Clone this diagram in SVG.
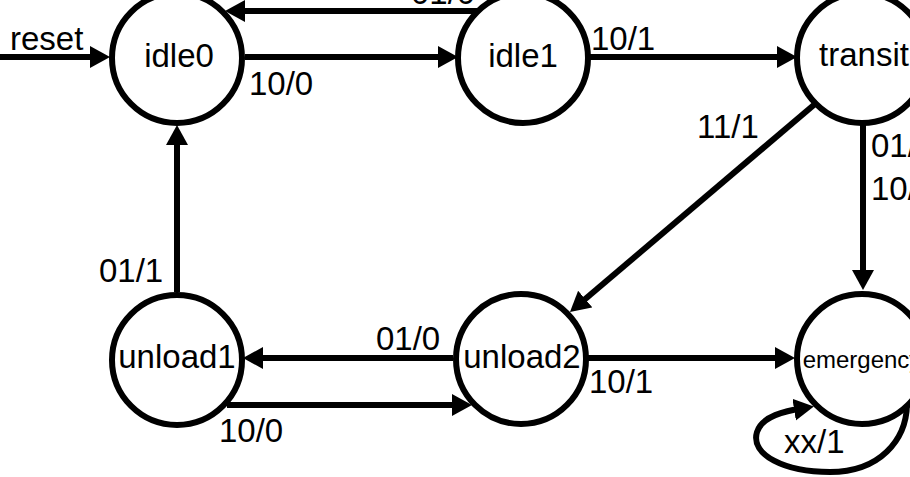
<svg xmlns="http://www.w3.org/2000/svg" width="910" height="477" viewBox="0 0 910 477">
<defs>
<marker id="arr" markerUnits="userSpaceOnUse" markerWidth="22" markerHeight="24" refX="10" refY="11" orient="auto" viewBox="0 0 22 24">
<path d="M0,0 L20,11 L0,22 z" fill="#000"/>
</marker>
<style>
.edge{fill:none;stroke:#000;stroke-width:6;marker-end:url(#arr)}
.node circle{fill:#fff;stroke:#000;stroke-width:6}
.nl{font-family:"Liberation Sans",Arial,sans-serif;font-size:33px;text-anchor:middle;fill:#000}
.el{font-family:"Liberation Sans",Arial,sans-serif;font-size:33px;fill:#000}
</style>
</defs>
<rect width="910" height="477" fill="#fff"/>
<g id="connectors">
<path class="edge" d="M0,57 H100"/>
<path class="edge" d="M245,57 H448"/>
<path class="edge" d="M478,11 H235"/>
<path class="edge" d="M588,57 H787"/>
<path class="edge" d="M815,104 L577.6,305.5"/>
<path class="edge" d="M863,123 V280"/>
<path class="edge" d="M177,292 V135"/>
<path class="edge" d="M453,358 H253"/>
<path class="edge" d="M227,405 H462"/>
<path class="edge" d="M588,358 H785"/>
<path class="edge" d="M907,405 C906,440 880,472 830,472 C785,472 750,455 757,432 C762,416 785,411 804,408"/>
<text class="el" x="10" y="50">reset</text>
<text class="el" x="249" y="95">10/0</text>
<text class="el" x="411" y="4">01/0</text>
<text class="el" x="591" y="50">10/1</text>
<text class="el" x="697" y="138">11/1</text>
<text class="el" x="871" y="157">01/</text>
<text class="el" x="871" y="200">10/</text>
<text class="el" x="99" y="282">01/1</text>
<text class="el" x="376" y="350">01/0</text>
<text class="el" x="219" y="442">10/0</text>
<text class="el" x="589" y="393">10/1</text>
<text class="el" x="784" y="453">xx/1</text>
</g>
<g id="idle0" class="node"><circle cx="177" cy="58" r="65"/><text class="nl" x="179" y="67">idle0</text></g>
<g id="idle1" class="node"><circle cx="523" cy="58" r="65"/><text class="nl" x="523" y="67">idle1</text></g>
<g id="transit" class="node"><circle cx="862" cy="58" r="65"/><text class="nl" x="864" y="66">transit</text></g>
<g id="unload1" class="node"><circle cx="177" cy="360" r="65"/><text class="nl" x="177" y="368">unload1</text></g>
<g id="unload2" class="node"><circle cx="521" cy="359" r="65"/><text class="nl" x="522" y="368">unload2</text></g>
<g id="emergency" class="node"><circle cx="862" cy="359" r="65"/><text class="nl" x="862" y="368" style="font-size:24px">emergency</text></g>
</svg>
